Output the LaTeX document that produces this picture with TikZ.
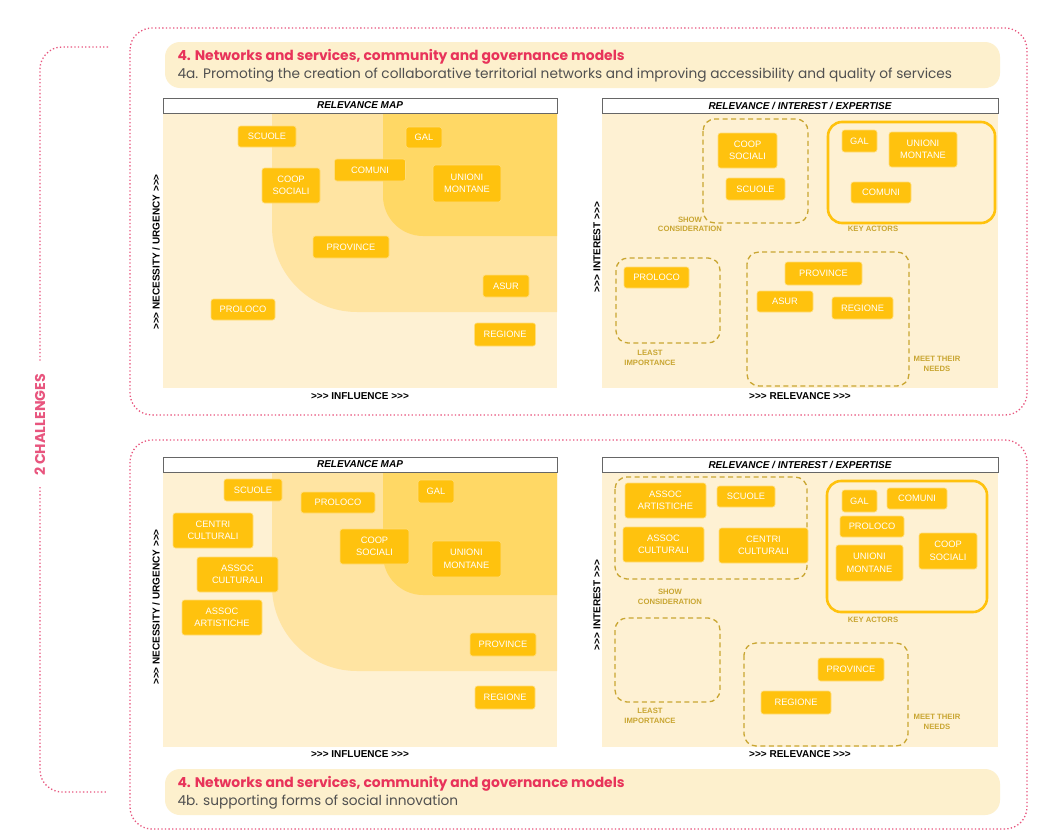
\documentclass[tikz,border=0pt]{standalone}
\usepackage{fontspec}
\setmainfont{Poppins}
\newfontfamily\labelfont{Liberation Sans}
\usetikzlibrary{positioning}

\definecolor{pinkdot}{HTML}{E8557E}
\definecolor{titlered}{HTML}{E8335A}
\definecolor{subgray}{HTML}{505050}
\definecolor{headfill}{HTML}{FDF0CD}
\definecolor{creambg}{HTML}{FEF1D3}
\definecolor{midbg}{HTML}{FFE4A2}
\definecolor{innerbg}{HTML}{FFD865}
\definecolor{actorfill}{HTML}{FFC20E}
\definecolor{groupgold}{HTML}{C9A632}

\tikzset{
  actor/.style={fill=actorfill, draw=actorfill!55!white, line width=0.6pt,
    rounded corners=2.5pt, text=white, align=center, inner sep=0pt,
    font=\labelfont\fontsize{9.3}{12.5}\selectfont},
  barttl/.style={draw=gray!80!black, fill=white, line width=0.8pt,
    inner sep=0pt, minimum height=15,
    font=\labelfont\bfseries\itshape\fontsize{10}{10}\selectfont},
  axislbl/.style={font=\labelfont\bfseries\fontsize{10}{10}\selectfont},
  grouplbl/.style={text=groupgold, align=center,
    font=\labelfont\bfseries\fontsize{7.7}{9.5}\selectfont},
  showbox/.style={draw=groupgold, dash pattern=on 5pt off 3.5pt,
    line width=1.3pt, rounded corners=12pt},
  keybox/.style={draw=actorfill, line width=2.6pt, rounded corners=14pt},
  dotline/.style={draw=pinkdot, line width=1.3pt, dash pattern=on 1.3pt off 2.3pt},
  challframe/.style={dotline, rounded corners=22pt},
  titletxt/.style={text=titlered, font=\bfseries\fontsize{13.9}{15}\selectfont},
  subtxt/.style={text=subgray, font=\fontsize{13.7}{15}\selectfont},
}

\begin{document}
\begin{tikzpicture}[x=1pt,y=-1pt]
  \useasboundingbox (0,0) rectangle (1044,835);
  \fill[white] (0,0) rectangle (1044,835);

  % the two challenges
  \draw[challframe] (130,28) rectangle (1027,415);
  \draw[challframe] (130,440) rectangle (1027,829);
  \draw[dotline] (108,47) -- (62,47) .. controls (50,47) and (40,57) .. (40,69) -- (40,362);
  \draw[dotline] (40,487) -- (40,770) .. controls (40,782) and (50,792) .. (62,792) -- (108,792);
  \node[rotate=90, text=pinkdot, font=\bfseries\fontsize{14.2}{15}\selectfont] (chall) at (40,425) {2 CHALLENGES};

  % headers
  \fill[headfill, rounded corners=15pt] (165,42) rectangle (1000,88);
  \node[titletxt, anchor=west] (titleA) at (174,57) {4. Networks and services, community and governance models};
  \node[subtxt, anchor=west] (subA) at (174,75) {4a. Promoting the creation of collaborative territorial networks and improving accessibility and quality of services};
  \fill[headfill, rounded corners=15pt] (165,769) rectangle (1000,815);
  \node[titletxt, anchor=west] (titleB) at (174,784) {4. Networks and services, community and governance models};
  \node[subtxt, anchor=west] (subB) at (174,802) {4b. supporting forms of social innovation};

  % chart backgrounds
  \foreach \dy in {0,359} {
    \fill[creambg] (163,114+\dy) rectangle (557,388+\dy);
    \fill[midbg] (557,114+\dy) -- (272,114+\dy) -- (272,227+\dy)
      .. controls (272,274+\dy) and (310,312+\dy) .. (357,312+\dy) -- (557,312+\dy) -- cycle;
    \fill[innerbg] (557,114+\dy) -- (383,114+\dy) -- (383,196+\dy)
      .. controls (383,218+\dy) and (401,236+\dy) .. (423,236+\dy) -- (557,236+\dy) -- cycle;
    \fill[creambg] (602,114+\dy) rectangle (998,388+\dy);
  }

  \node[barttl, minimum width=394] (mapbarA) at (360,105.5) {RELEVANCE MAP};
  \node[barttl, minimum width=396] (ribarA) at (800,105.5) {RELEVANCE / INTEREST / EXPERTISE};
  \node[barttl, minimum width=394] (mapbarB) at (360,464.5) {RELEVANCE MAP};
  \node[barttl, minimum width=396] (ribarB) at (800,464.5) {RELEVANCE / INTEREST / EXPERTISE};

  \node[axislbl] (inflA) at (360,396) {>>> INFLUENCE >>>};
  \node[axislbl] (relA) at (800,396) {>>> RELEVANCE >>>};
  \node[axislbl, rotate=90] (needA) at (156,252) {>>> NECESSITY / URGENCY >>>};
  \node[axislbl, rotate=90] (intA) at (597,247) {>>> INTEREST >>>};
  \node[axislbl] (inflB) at (360,754) {>>> INFLUENCE >>>};
  \node[axislbl] (relB) at (800,754) {>>> RELEVANCE >>>};
  \node[axislbl, rotate=90] (needB) at (156,607) {>>> NECESSITY / URGENCY >>>};
  \node[axislbl, rotate=90] (intB) at (597,605) {>>> INTEREST >>>};

  % relevance map, 4a
  \node[actor, minimum width=58, minimum height=21] (mapScuoleA) at (267,136.5) {SCUOLE};
  \node[actor, minimum width=36, minimum height=21] (mapGalA) at (424,137.5) {GAL};
  \node[actor, minimum width=71, minimum height=22] (mapComuniA) at (370,170) {COMUNI};
  \node[actor, minimum width=58, minimum height=35] (mapCoopA) at (291,185.5) {COOP\\SOCIALI};
  \node[actor, minimum width=68, minimum height=37] (mapUnioniA) at (467,183.5) {UNIONI\\MONTANE};
  \node[actor, minimum width=76, minimum height=22] (mapProvA) at (351,247) {PROVINCE};
  \node[actor, minimum width=46, minimum height=22] (mapAsurA) at (506,286) {ASUR};
  \node[actor, minimum width=64, minimum height=21] (mapProlocoA) at (243,309.5) {PROLOCO};
  \node[actor, minimum width=61, minimum height=23] (mapRegA) at (505,334.5) {REGIONE};

  % relevance / interest, 4a
  \draw[showbox] (703,119) rectangle (808,223);
  \draw[keybox] (828,122) rectangle (995,223);
  \draw[showbox] (616,258) rectangle (720,343);
  \draw[showbox] (747,252) rectangle (909,386);
  \node[grouplbl] (showA) at (690,224.5) {SHOW\\CONSIDERATION};
  \node[grouplbl] (keyA) at (873,229) {KEY ACTORS};
  \node[grouplbl] (leastA) at (650,358) {LEAST\\IMPORTANCE};
  \node[grouplbl] (meetA) at (937,364) {MEET THEIR\\NEEDS};
  \node[actor, minimum width=59, minimum height=35] (riCoopA) at (747.5,150.5) {COOP\\SOCIALI};
  \node[actor, minimum width=59, minimum height=22] (riScuoleA) at (755.5,189) {SCUOLE};
  \node[actor, minimum width=35, minimum height=22] (riGalA) at (859.5,141) {GAL};
  \node[actor, minimum width=68, minimum height=35] (riUnioniA) at (923,149.5) {UNIONI\\MONTANE};
  \node[actor, minimum width=60, minimum height=21] (riComuniA) at (881,192.5) {COMUNI};
  \node[actor, minimum width=65, minimum height=21] (riProlocoA) at (656.5,277.5) {PROLOCO};
  \node[actor, minimum width=77, minimum height=23] (riProvA) at (823.5,273.5) {PROVINCE};
  \node[actor, minimum width=56, minimum height=21] (riAsurA) at (785,301.5) {ASUR};
  \node[actor, minimum width=61, minimum height=22] (riRegA) at (862.5,308) {REGIONE};

  % relevance map, 4b
  \node[actor, minimum width=58, minimum height=22] (mapScuoleB) at (253,490) {SCUOLE};
  \node[actor, minimum width=74, minimum height=21] (mapProlocoB) at (338,502.5) {PROLOCO};
  \node[actor, minimum width=36, minimum height=23] (mapGalB) at (436,491.5) {GAL};
  \node[actor, minimum width=80, minimum height=35] (mapCentriB) at (213,530.5) {CENTRI\\CULTURALI};
  \node[actor, minimum width=69, minimum height=35] (mapCoopB) at (374.5,546.5) {COOP\\SOCIALI};
  \node[actor, minimum width=69, minimum height=36] (mapUnioniB) at (466.5,559) {UNIONI\\MONTANE};
  \node[actor, minimum width=81, minimum height=35] (mapCultB) at (237.5,574.5) {ASSOC\\CULTURALI};
  \node[actor, minimum width=80, minimum height=35] (mapArtB) at (222,617.5) {ASSOC\\ARTISTICHE};
  \node[actor, minimum width=66, minimum height=23] (mapProvB) at (503,644.5) {PROVINCE};
  \node[actor, minimum width=60, minimum height=23] (mapRegB) at (505,697.5) {REGIONE};

  % relevance / interest, 4b
  \draw[showbox] (615,477) rectangle (807,579);
  \draw[keybox] (827,481) rectangle (987,612);
  \draw[showbox] (615,618) rectangle (720,702);
  \draw[showbox] (744,643) rectangle (908,746);
  \node[grouplbl] (showB) at (670,597) {SHOW\\CONSIDERATION};
  \node[grouplbl] (keyB) at (873,620) {KEY ACTORS};
  \node[grouplbl] (leastB) at (650,716) {LEAST\\IMPORTANCE};
  \node[grouplbl] (meetB) at (937,722) {MEET THEIR\\NEEDS};
  \node[actor, minimum width=81, minimum height=35] (riArtB) at (665.5,500.5) {ASSOC\\ARTISTICHE};
  \node[actor, minimum width=58, minimum height=21] (riScuoleB) at (746,496.5) {SCUOLE};
  \node[actor, minimum width=81, minimum height=35] (riCultB) at (663.5,544.5) {ASSOC\\CULTURALI};
  \node[actor, minimum width=89, minimum height=35] (riCentriB) at (763.5,545.5) {CENTRI\\CULTURALI};
  \node[actor, minimum width=35, minimum height=22] (riGalB) at (859.5,501) {GAL};
  \node[actor, minimum width=60, minimum height=21] (riComuniB) at (917,498.5) {COMUNI};
  \node[actor, minimum width=64, minimum height=21] (riProlocoB) at (872,526.5) {PROLOCO};
  \node[actor, minimum width=67, minimum height=36] (riUnioniB) at (869.5,563) {UNIONI\\MONTANE};
  \node[actor, minimum width=58, minimum height=36] (riCoopB) at (948,551) {COOP\\SOCIALI};
  \node[actor, minimum width=66, minimum height=23] (riProvB) at (851,669.5) {PROVINCE};
  \node[actor, minimum width=70, minimum height=23] (riRegB) at (796,702.5) {REGIONE};
\end{tikzpicture}
\end{document}
